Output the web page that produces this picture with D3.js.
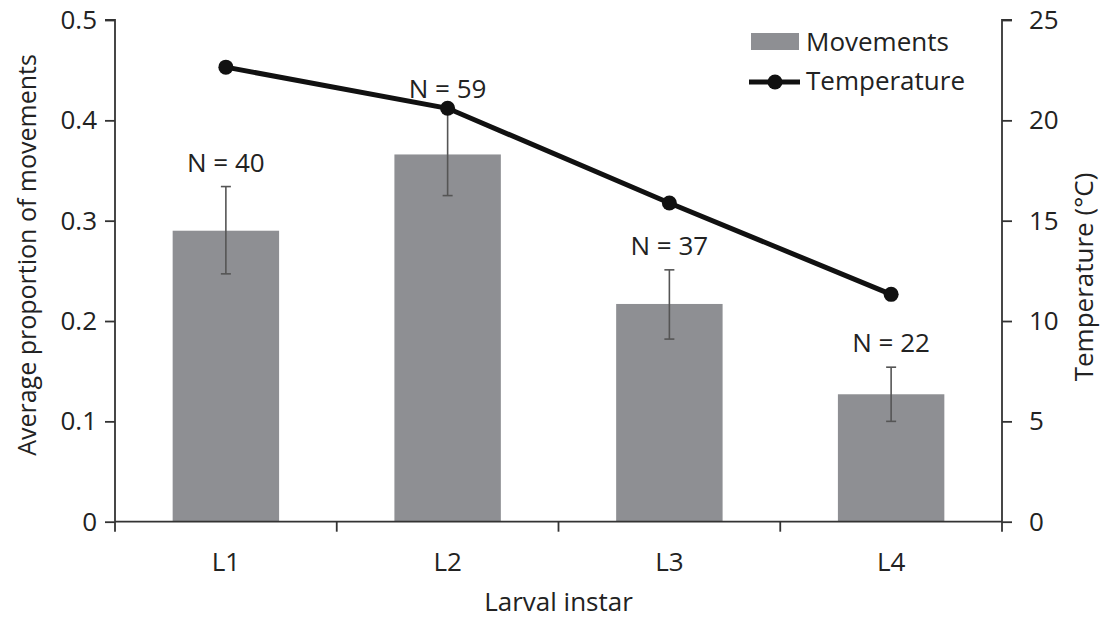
<!DOCTYPE html>
<html>
<head>
<meta charset="utf-8">
<script src="https://cdn.jsdelivr.net/npm/d3@7"></script>
<style>
  html, body { margin: 0; padding: 0; background: #fff; }
  svg text { font-family: "Open Sans", "Noto Sans", sans-serif; fill: #222; }
</style>
</head>
<body>
<svg id="chart" width="1105" height="620"></svg>
<script>
// Larval instars on the x axis
const instars = ["L1", "L2", "L3", "L4"];
// Average proportion of movements (bars) with error bar bounds
const movements = [0.290, 0.366, 0.217, 0.127];
const errLow = [0.247, 0.325, 0.182, 0.100];
const errHigh = [0.334, 0.407, 0.251, 0.154];
// Sample sizes shown above each bar
const sampleSizes = [40, 59, 37, 22];
// Mean temperature (°C) per instar
const temperature = [22.65, 20.6, 15.88, 11.33];
// Tick values
const leftTicks = [0, 0.1, 0.2, 0.3, 0.4, 0.5];
const rightTicks = [0, 5, 10, 15, 20, 25];

const svg = d3.select("#chart");
const m = { left: 115, right: 1002, top: 20, bottom: 521.7 };

const x = d3.scaleBand().domain(instars).range([m.left, m.right]).paddingInner(0).paddingOuter(0);
const yL = d3.scaleLinear().domain([0, 0.5]).range([m.bottom, m.top]);
const yR = d3.scaleLinear().domain([0, 25]).range([m.bottom, m.top]);

const axisColor = "#333";
const barColor = "#8e8f93";
const barW = x.bandwidth() * 0.48;
const fs = 26;

// Bars
svg.append("g").selectAll("rect").data(instars).join("rect")
  .attr("x", d => x(d) + x.bandwidth() / 2 - barW / 2)
  .attr("y", (d, i) => yL(movements[i]))
  .attr("width", barW)
  .attr("height", (d, i) => yL(0) - yL(movements[i]))
  .attr("fill", barColor);

// Error bars
const eb = svg.append("g").attr("stroke", "#555").attr("stroke-width", 1.6);
instars.forEach((d, i) => {
  const cx = x(d) + x.bandwidth() / 2;
  eb.append("line").attr("x1", cx).attr("x2", cx).attr("y1", yL(errLow[i])).attr("y2", yL(errHigh[i]));
  [errLow[i], errHigh[i]].forEach(v => {
    eb.append("line").attr("x1", cx - 5).attr("x2", cx + 5).attr("y1", yL(v)).attr("y2", yL(v));
  });
});

// N labels
svg.append("g").selectAll("text").data(instars).join("text")
  .attr("x", d => x(d) + x.bandwidth() / 2)
  .attr("y", (d, i) => yL(errHigh[i]) - 15)
  .attr("text-anchor", "middle")
  .attr("font-size", fs)
  .text((d, i) => "N = " + sampleSizes[i]);

// Temperature line
const line = d3.line().x((d, i) => x(instars[i]) + x.bandwidth() / 2).y(d => yR(d));
svg.append("path").datum(temperature)
  .attr("d", line).attr("fill", "none").attr("stroke", "#111").attr("stroke-width", 5);
svg.append("g").selectAll("circle").data(temperature).join("circle")
  .attr("cx", (d, i) => x(instars[i]) + x.bandwidth() / 2)
  .attr("cy", d => yR(d)).attr("r", 7.5).attr("fill", "#111");

// Left axis
const gL = svg.append("g").attr("transform", `translate(${m.left},0)`)
  .call(d3.axisLeft(yL).tickValues(leftTicks).tickSize(10).tickPadding(8)
    .tickFormat(d => d === 0 ? "0" : d3.format(".1f")(d)));
// Right axis
const gR = svg.append("g").attr("transform", `translate(${m.right},0)`)
  .call(d3.axisRight(yR).tickValues(rightTicks).tickSize(10).tickPadding(17));
// Bottom axis with ticks on category boundaries
const gB = svg.append("g").attr("transform", `translate(0,${m.bottom})`)
  .call(d3.axisBottom(x).tickSize(0).tickPadding(30));
[gL, gR, gB].forEach(g => {
  g.select(".domain").attr("stroke", axisColor).attr("stroke-width", 1.8);
  g.selectAll(".tick line").attr("stroke", axisColor).attr("stroke-width", 1.8);
  g.selectAll("text").attr("font-size", fs).attr("fill", "#222")
    .style("font-family", '"Open Sans", "Noto Sans", sans-serif');
});
gL.select(".domain").attr("d", `M-10,${m.top}H0V${m.bottom}`);
gR.select(".domain").attr("d", `M10,${m.top}H0V${m.bottom}`);
gB.select(".domain").attr("d", `M${m.left},0H${m.right}`);
gB.selectAll(".tick text").attr("dy", "0.35em").attr("y", 40);
const boundaries = instars.map(d => x(d)).concat([m.right]);
gB.selectAll("line.bnd").data(boundaries).join("line").attr("class", "bnd")
  .attr("x1", d => d).attr("x2", d => d).attr("y1", 0).attr("y2", 10)
  .attr("stroke", axisColor).attr("stroke-width", 1.8);

// Axis titles
svg.append("text").attr("transform", "translate(36,255) rotate(-90)")
  .attr("text-anchor", "middle").attr("font-size", 25)
  .text("Average proportion of movements");
svg.append("text").attr("transform", "translate(1093,277) rotate(-90)")
  .attr("text-anchor", "middle").attr("font-size", fs)
  .text("Temperature (°C)");
svg.append("text").attr("x", (m.left + m.right) / 2).attr("y", 611)
  .attr("text-anchor", "middle").attr("font-size", fs)
  .text("Larval instar");

// Legend
const lg = svg.append("g");
lg.append("rect").attr("x", 751).attr("y", 33).attr("width", 48).attr("height", 17).attr("fill", barColor);
lg.append("text").attr("x", 806).attr("y", 42).attr("dy", "0.35em").attr("font-size", fs).text("Movements");
lg.append("line").attr("x1", 749).attr("x2", 800).attr("y1", 82).attr("y2", 82)
  .attr("stroke", "#111").attr("stroke-width", 5);
lg.append("circle").attr("cx", 775).attr("cy", 82).attr("r", 7.5).attr("fill", "#111");
lg.append("text").attr("x", 806).attr("y", 81).attr("dy", "0.35em").attr("font-size", fs).text("Temperature");
</script>
</body>
</html>
